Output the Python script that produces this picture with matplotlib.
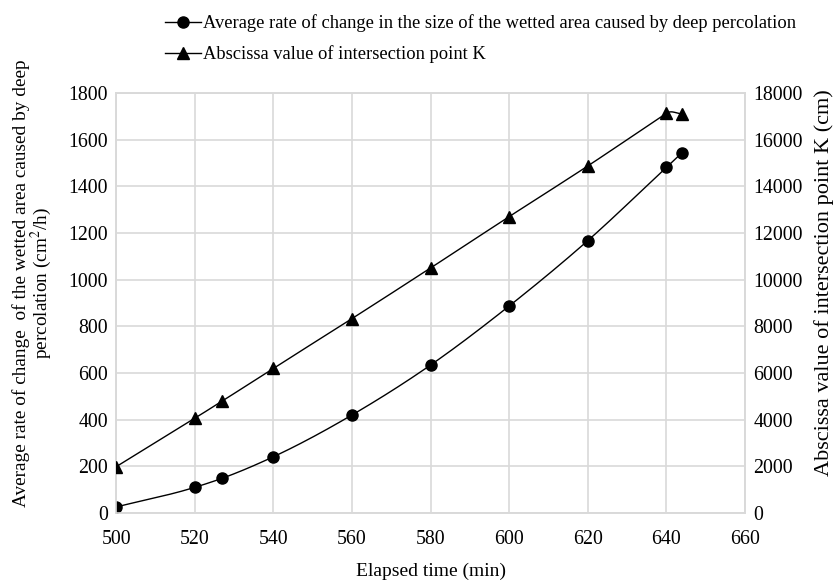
import numpy as np
import matplotlib.pyplot as plt

plt.rcParams['font.family'] = ['Liberation Serif', 'DejaVu Serif']
plt.rcParams['mathtext.fontset'] = 'stix'

time_min = [500, 520, 527, 540, 560, 580, 600, 620, 640, 644]
rate_area = [26, 110, 149, 241, 420, 634, 887, 1167, 1481, 1544]
k_abscissa = [1985, 4060, 4800, 6200, 8330, 10500, 12700, 14870, 17130, 17100]


def smooth(x, y, n=30):
    # cubic Hermite through the points, like a spreadsheet "smoothed line"
    x = np.asarray(x, float)
    y = np.asarray(y, float)
    m = np.gradient(y, x)
    sec = np.diff(y) / np.diff(x)
    dx = np.diff(x)
    for i in range(1, len(x) - 1):
        if sec[i - 1] * sec[i] <= 0:
            # direction change: follow the longer neighbouring segment
            m[i] = sec[i - 1] if dx[i - 1] > dx[i] else sec[i]
    xs, ys = [], []
    t = np.linspace(0, 1, n)
    h00 = 2 * t ** 3 - 3 * t ** 2 + 1
    h10 = t ** 3 - 2 * t ** 2 + t
    h01 = -2 * t ** 3 + 3 * t ** 2
    h11 = t ** 3 - t ** 2
    for i in range(len(x) - 1):
        h = dx[i]
        xs.extend(x[i] + t * h)
        ys.extend(h00 * y[i] + h10 * h * m[i] + h01 * y[i + 1] + h11 * h * m[i + 1])
    return xs, ys


fig, ax = plt.subplots(figsize=(8.36, 5.8), dpi=100)
fig.subplots_adjust(left=0.139, right=0.891, bottom=0.1155, top=0.8397)
ax2 = ax.twinx()

sx, sy = smooth(time_min, rate_area)
ax.plot(sx, sy, color='black', lw=1)
ax.plot(time_min, rate_area, 'o', color='black', ms=8, zorder=3)
sx, sy = smooth(time_min, k_abscissa)
ax2.plot(sx, sy, color='black', lw=1)
ax2.plot(time_min, k_abscissa, '^', color='black', ms=9, zorder=3)

ax.set_xlim(500, 660)
ax.set_ylim(0, 1800)
ax2.set_ylim(0, 18000)
ax.set_xticks(range(500, 661, 20))
ax.set_yticks(range(0, 1801, 200))
ax2.set_yticks(range(0, 18001, 2000))
ax.grid(True, color='#d9d9d9', lw=1.2)
ax.set_axisbelow(True)
for a in (ax, ax2):
    for s in a.spines.values():
        s.set_color('#d9d9d9')
        s.set_linewidth(1.2)
    a.tick_params(length=0, labelsize=14.3, pad=6)
ax.tick_params(axis='x', pad=12)

ax.set_xlabel('Elapsed time (min)', fontsize=14, labelpad=10)
ax.set_ylabel('Average rate of change  of the wetted area caused by deep\n'
              'percolation (cm$^2$/h)', fontsize=13.9, linespacing=0.95)
ax.yaxis.set_label_coords(-0.132, 0.548)
ax.yaxis.label.set_va('center')
ax2.set_ylabel('Abscissa value of intersection point K (cm)', fontsize=16)
ax2.yaxis.set_label_coords(1.126, 0.548)
ax2.yaxis.label.set_va('center')

h1, = ax.plot([], [], '-o', color='black', lw=1, ms=8)
h2, = ax.plot([], [], '-^', color='black', lw=1, ms=9)
fig.legend([h1, h2],
           ['Average rate of change in the size of the wetted area caused by deep percolation',
            'Abscissa value of intersection point K'],
           loc='upper left', bbox_to_anchor=(0.178, 1.004), frameon=False,
           fontsize=13.3, handlelength=1.9, handletextpad=0.15, labelspacing=0.7)

fig.savefig('out.png')
